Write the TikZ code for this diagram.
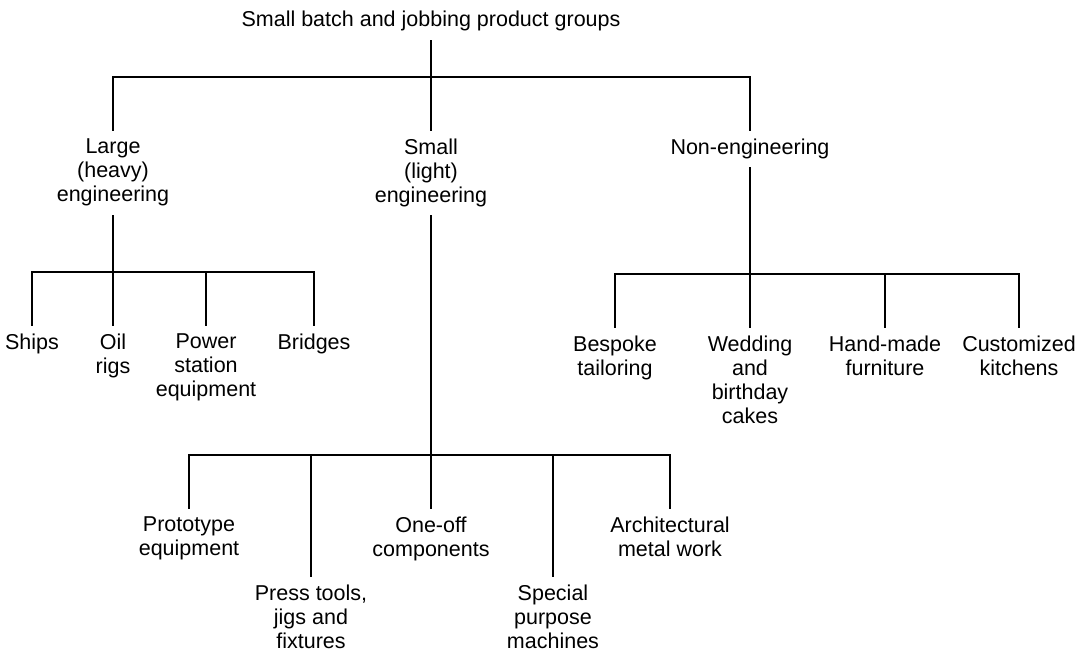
\documentclass[tikz,border=0pt]{standalone}
\usepackage{fontspec}
\setmainfont{Liberation Sans}
\begin{document}
\begin{tikzpicture}[x=1pt,y=-1pt,
  lbl/.style={align=center,inner sep=0pt,outer ysep=9pt,outer xsep=0pt,
    font={\fontsize{21.5}{24}\selectfont}},
  conn/.style={line width=1.2pt,line cap=rect}]
\useasboundingbox (0,0) rectangle (1087,658);
% title
\node[lbl,anchor=base] (root) at (431,27) {Small batch and jobbing product groups};
% level 1
\node[lbl,anchor=north] (large) at (113,130) {Large\\(heavy)\\engineering};
\node[lbl,anchor=north] (small) at (431,130) {Small\\(light)\\engineering};
\node[lbl,anchor=north] (nonen) at (750,130) {Non-engineering};
% level 2 under large
\node[lbl,anchor=north] (ships) at (32,325) {Ships};
\node[lbl,anchor=north] (oil) at (113,325) {Oil\\rigs};
\node[lbl,anchor=north] (power) at (206,325) {Power\\station\\equipment};
\node[lbl,anchor=north] (bridges) at (314,325) {Bridges};
% level 2 under non-engineering
\node[lbl,anchor=north] (bespoke) at (615,327) {Bespoke\\tailoring};
\node[lbl,anchor=north] (wedding) at (750,327) {Wedding\\and\\birthday\\cakes};
\node[lbl,anchor=north] (hand) at (885,327) {Hand-made\\furniture};
\node[lbl,anchor=north] (kitch) at (1019,327) {Customized\\kitchens};
% level 2 under small
\node[lbl,anchor=north] (proto) at (189,508) {Prototype\\equipment};
\node[lbl,anchor=north] (press) at (311,576) {Press tools,\\jigs and\\fixtures};
\node[lbl,anchor=north] (oneoff) at (431,508) {One-off\\components};
\node[lbl,anchor=north] (special) at (553,576) {Special\\purpose\\machines};
\node[lbl,anchor=north] (arch) at (670,508) {Architectural\\metal work};
% junctions
\coordinate (hR) at (431,77);
\coordinate (hL) at (113,272);
\coordinate (hN) at (750,274);
\coordinate (hS) at (431,455);
% connectors
\draw[conn] (root) -- (hR);
\draw[conn] (hR) -| (large);
\draw[conn] (hR) -- (small);
\draw[conn] (hR) -| (nonen);
\draw[conn] (large) -- (hL);
\draw[conn] (hL) -| (ships);
\draw[conn] (hL) -- (oil);
\draw[conn] (hL) -| (power);
\draw[conn] (hL) -| (bridges);
\draw[conn] (nonen) -- (hN);
\draw[conn] (hN) -| (bespoke);
\draw[conn] (hN) -- (wedding);
\draw[conn] (hN) -| (hand);
\draw[conn] (hN) -| (kitch);
\draw[conn] (small) -- (hS);
\draw[conn] (hS) -| (proto);
\draw[conn] (hS) -| (press);
\draw[conn] (hS) -- (oneoff);
\draw[conn] (hS) -| (special);
\draw[conn] (hS) -| (arch);
\end{tikzpicture}
\end{document}
